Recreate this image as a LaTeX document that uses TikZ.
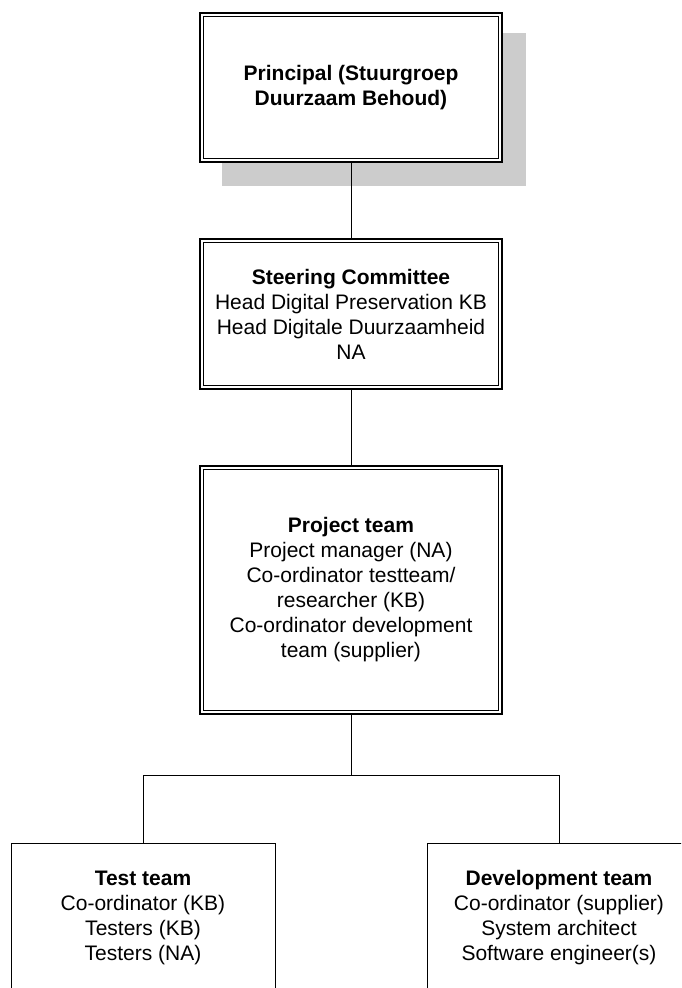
\documentclass[tikz,border=0pt]{standalone}
\usepackage{fontspec}
\setmainfont{Liberation Sans}
\begin{document}
\begin{tikzpicture}[x=1pt, y=-1pt, font=\fontsize{21}{25}\selectfont]
    \tikzset{orgbox/.style={draw, line width=0.8pt, fill=white, align=center, inner sep=0pt},
             mainbox/.style={orgbox, line width=1.8pt, outer sep=0pt, minimum width=302pt},
             teambox/.style={orgbox, minimum width=264pt, minimum height=150pt}}
    \useasboundingbox (0,0) rectangle (681,988);
    \clip (0,0) rectangle (681,988);
    % shadow behind the principal
    \fill[black!20] (222,33) rectangle (526,186);
    \node[mainbox, minimum height=149pt] (principal) at (351,87.5) {\textbf{Principal (Stuurgroep}\\\textbf{Duurzaam Behoud)}};
    \node[mainbox, minimum height=150pt] (steering) at (351,314) {\textbf{Steering Committee}\\Head Digital Preservation KB\\Head Digitale Duurzaamheid\\NA};
    \node[mainbox, minimum height=248pt] (project) at (351,590) {\textbf{Project team}\\Project manager (NA)\\Co-ordinator testteam/\\researcher (KB)\\Co-ordinator development\\team (supplier)};
    \node[teambox] (test) at (143,918) {\textbf{Test team}\\Co-ordinator (KB)\\Testers (KB)\\Testers (NA)};
    \node[teambox] (dev) at (559,918) {\textbf{Development team}\\Co-ordinator (supplier)\\System architect\\Software engineer(s)};
    % inner lines of the double borders
    \foreach \boxname in {principal, steering, project}
        \draw[line width=0.8pt] ([shift={(3.5,3.5)}]\boxname.north west) rectangle ([shift={(-3.5,-3.5)}]\boxname.south east);
    \coordinate (fork) at (351,775);
    \draw[line width=0.8pt] (principal.south) -- (steering.north);
    \draw[line width=0.8pt] (steering.south) -- (project.north);
    \draw[line width=0.8pt] (project.south) -- (fork);
    \draw[line width=0.8pt] (test.north) |- (fork) -| (dev.north);
\end{tikzpicture}
\end{document}
